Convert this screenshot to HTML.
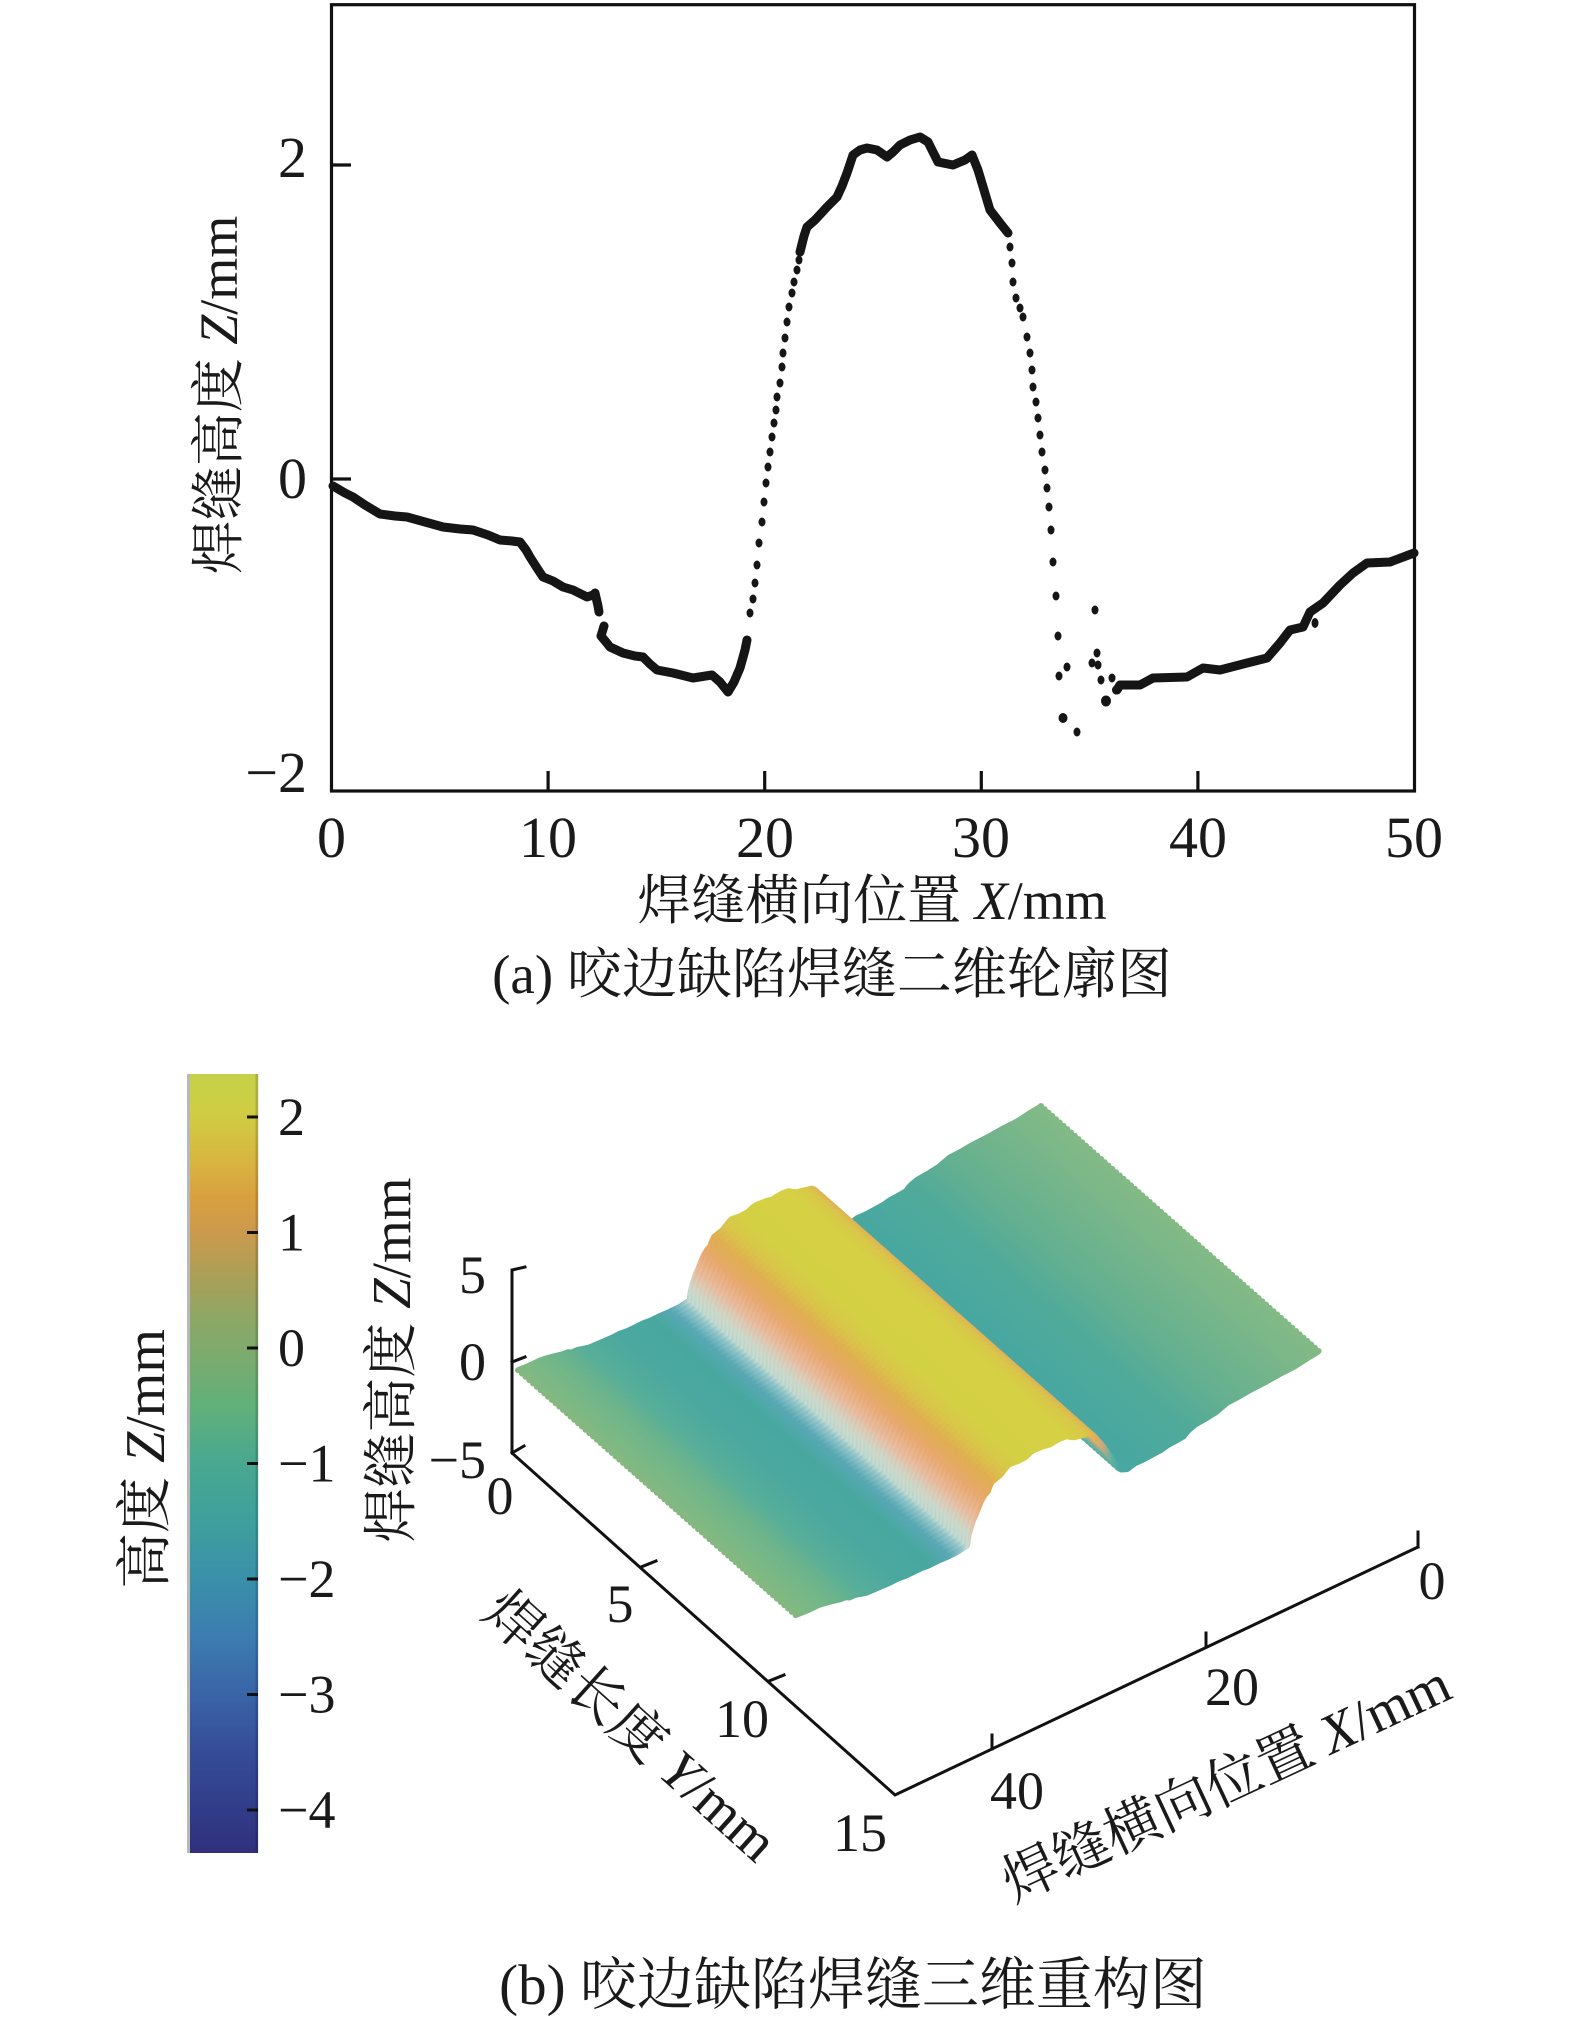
<!DOCTYPE html>
<html><head><meta charset="utf-8"><style>
html,body{margin:0;padding:0;background:#fff;}
svg{display:block;}
text{font-family:"Liberation Serif","Noto Serif CJK SC",serif;fill:#1a1a1a;}
</style></head><body>
<svg xmlns="http://www.w3.org/2000/svg" width="1575" height="2028" viewBox="0 0 1575 2028">
<defs>
<linearGradient id="cb" x1="0" y1="0" x2="0" y2="1">
<stop offset="0" stop-color="#c4d24a"/>
<stop offset="0.055" stop-color="#d0cc42"/>
<stop offset="0.114" stop-color="#d8b440"/>
<stop offset="0.159" stop-color="#d8a040"/>
<stop offset="0.203" stop-color="#cc9a4c"/>
<stop offset="0.263" stop-color="#a8a058"/>
<stop offset="0.322" stop-color="#8aa868"/>
<stop offset="0.352" stop-color="#80aa6c"/>
<stop offset="0.426" stop-color="#62b07a"/>
<stop offset="0.5" stop-color="#48a890"/>
<stop offset="0.574" stop-color="#3ea09c"/>
<stop offset="0.648" stop-color="#3a90aa"/>
<stop offset="0.723" stop-color="#3c7cb0"/>
<stop offset="0.797" stop-color="#3a64a6"/>
<stop offset="0.871" stop-color="#354c98"/>
<stop offset="0.945" stop-color="#313c88"/>
<stop offset="1" stop-color="#30307c"/>
</linearGradient>
<linearGradient id="sg" gradientUnits="userSpaceOnUse" x1="331" y1="0" x2="1414" y2="0">
<stop offset="0" stop-color="#82ba86"/>
<stop offset="0.064" stop-color="#78b68a"/>
<stop offset="0.175" stop-color="#64b090"/>
<stop offset="0.248" stop-color="#50aa9a"/>
<stop offset="0.341" stop-color="#48a8a0"/>
<stop offset="0.378" stop-color="#48a8a2"/>
<stop offset="0.396" stop-color="#60b0a0"/>
<stop offset="0.415" stop-color="#d8a878"/>
<stop offset="0.428" stop-color="#e0b058"/>
<stop offset="0.447" stop-color="#d8c848"/>
<stop offset="0.479" stop-color="#d6d044"/>
<stop offset="0.572" stop-color="#d4d044"/>
<stop offset="0.600" stop-color="#d8c848"/>
<stop offset="0.625" stop-color="#e0ae50"/>
<stop offset="0.645" stop-color="#e8a870"/>
<stop offset="0.660" stop-color="#e8bca0"/>
<stop offset="0.672" stop-color="#c8dcd0"/>
<stop offset="0.684" stop-color="#90c4c8"/>
<stop offset="0.706" stop-color="#58a8b4"/>
<stop offset="0.740" stop-color="#48a8a0"/>
<stop offset="0.802" stop-color="#4aa8a0"/>
<stop offset="0.876" stop-color="#58ae98"/>
<stop offset="0.922" stop-color="#6cb48c"/>
<stop offset="0.978" stop-color="#7cb884"/>
<stop offset="1" stop-color="#84b880"/>
</linearGradient>
<polyline id="prof" transform="matrix(-0.4829 0.23638 0 0.11656 1200.85 971.43)" fill="none" stroke="url(#sg)" stroke-width="6" vector-effect="non-scaling-stroke" stroke-linejoin="round" stroke-linecap="round"
points="331,483 333,488 353,497 380,515 407,517 443,527 473,530 500,540 520,542 530,557 543,577 563,588 587,597 598,612 605,628 610,647 623,653 643,657 657,670 673,673 693,678 712,675 728,692 740,670 747,640 750,613 755,583 759,543 764,502 770,452 777,397 787,333 795,277 800,250 807,227 815,220 827,207 837,197 847,173 853,155 867,148 877,150 887,157 900,145 920,137 928,142 938,162 953,165 972,155 978,170 990,210 1000,223 1008,233 1012,260 1016,298 1023,317 1030,353 1036,401 1042,452 1047,488 1051,530 1056,596 1059,676 1080,690 1100,690 1120,685 1140,685 1153,678 1187,677 1203,668 1220,670 1247,663 1267,658 1280,643 1290,630 1303,627 1310,610 1323,603 1340,585 1353,573 1367,563 1390,562 1414,553"/>
<g id="g5">
<use href="#prof"/>
<use href="#prof" transform="translate(3.75 3.31)"/>
<use href="#prof" transform="translate(7.50 6.62)"/>
<use href="#prof" transform="translate(11.25 9.93)"/>
<use href="#prof" transform="translate(15.00 13.24)"/>
</g>
</defs>

<!-- Chart (a) -->
<rect x="331.5" y="4.7" width="1083" height="786.3" fill="none" stroke="#111" stroke-width="3.2"/>
<g stroke="#111" stroke-width="3.2">
<line x1="548.1" y1="791" x2="548.1" y2="771"/>
<line x1="764.7" y1="791" x2="764.7" y2="771"/>
<line x1="981.3" y1="791" x2="981.3" y2="771"/>
<line x1="1197.9" y1="791" x2="1197.9" y2="771"/>
<line x1="331.5" y1="165" x2="351" y2="165"/>
<line x1="331.5" y1="479" x2="351" y2="479"/>
</g>
<g font-size="58" text-anchor="middle">
<text x="331.5" y="857">0</text>
<text x="548" y="857">10</text>
<text x="765" y="857">20</text>
<text x="981" y="857">30</text>
<text x="1198" y="857">40</text>
<text x="1414" y="857">50</text>
</g>
<g font-size="58" text-anchor="end">
<text x="307" y="177">2</text>
<text x="307" y="498">0</text>
<text x="307" y="792">−2</text>
</g>
<text font-size="54" text-anchor="middle" transform="translate(237,395) rotate(-90)">焊缝高度 <tspan font-style="italic">Z</tspan>/mm</text>
<text font-size="54" x="872" y="919" text-anchor="middle">焊缝横向位置 <tspan font-style="italic">X</tspan>/mm</text>
<text font-size="55" x="832" y="993" text-anchor="middle">(a) 咬边缺陷焊缝二维轮廓图</text>

<g fill="none" stroke="#151515" stroke-width="9" stroke-linejoin="round" stroke-linecap="round">
<polyline points="333,486 345,493 353,497 365,505 380,514 395,516 407,517 425,522 443,527 460,529 473,530 488,535 500,540 512,541 520,542 526,550 530,557 537,568 543,577 553,581 563,587 573,590 587,597 593,595"/>
<polyline points="595,593 598,606 599,612"/>
<polyline points="604,626 601,636 606,642 610,647 623,653 635,656 643,657 650,664 657,670 673,673 693,678 712,675 720,682 728,692 734,682 740,668 745,650 747,640"/>
<polyline points="800,252 804,236 807,227 815,220 827,207 837,197 842,186 847,173 853,155 860,150 867,148 877,150 887,157 893,152 900,145 910,140 920,137 928,142 933,152 938,162 953,165 965,160 972,155 978,170 984,190 990,210 1000,223 1008,233"/>
<polyline points="1117,690 1120,685 1140,685 1153,678 1187,677 1203,668 1220,670 1247,663 1267,658 1280,643 1290,630 1303,627 1310,612 1323,603 1340,585 1353,573 1367,563 1390,562 1414,553"/>
</g>
<g fill="#151515">
<ellipse cx="750" cy="613" rx="3.5" ry="4.5"/><ellipse cx="753" cy="599" rx="3.5" ry="4.5"/><ellipse cx="755" cy="583" rx="3.5" ry="4.5"/><ellipse cx="757" cy="565" rx="3.5" ry="4.5"/><ellipse cx="759" cy="543" rx="3.5" ry="4.5"/><ellipse cx="762" cy="522" rx="3.5" ry="4.5"/><ellipse cx="764" cy="502" rx="3.5" ry="4.5"/><ellipse cx="766" cy="483" rx="3.5" ry="4.5"/><ellipse cx="768" cy="467" rx="3.5" ry="4.5"/><ellipse cx="770" cy="452" rx="3.5" ry="4.5"/><ellipse cx="772" cy="437" rx="3.5" ry="4.5"/><ellipse cx="774" cy="423" rx="3.5" ry="4.5"/><ellipse cx="776" cy="410" rx="3.5" ry="4.5"/><ellipse cx="777" cy="397" rx="3.5" ry="4.5"/><ellipse cx="780" cy="383" rx="3.5" ry="4.5"/><ellipse cx="782" cy="367" rx="3.5" ry="4.5"/><ellipse cx="783" cy="353" rx="3.5" ry="4.5"/><ellipse cx="785" cy="338" rx="3.5" ry="4.5"/><ellipse cx="787" cy="322" rx="3.5" ry="4.5"/><ellipse cx="789" cy="307" rx="3.5" ry="4.5"/><ellipse cx="792" cy="293" rx="3.5" ry="4.5"/><ellipse cx="794" cy="282" rx="3.5" ry="4.5"/><ellipse cx="797" cy="270" rx="3.5" ry="4.5"/><ellipse cx="799" cy="260" rx="3.5" ry="4.5"/>
<ellipse cx="1010" cy="247" rx="3.5" ry="4.5"/><ellipse cx="1012" cy="263" rx="3.5" ry="4.5"/><ellipse cx="1013" cy="282" rx="3.5" ry="4.5"/><ellipse cx="1016" cy="298" rx="3.5" ry="4.5"/><ellipse cx="1020" cy="308" rx="3.5" ry="4.5"/><ellipse cx="1023" cy="317" rx="3.5" ry="4.5"/><ellipse cx="1027" cy="337" rx="3.5" ry="4.5"/><ellipse cx="1030" cy="353" rx="3.5" ry="4.5"/><ellipse cx="1032" cy="370" rx="3.5" ry="4.5"/><ellipse cx="1033" cy="387" rx="3.5" ry="4.5"/><ellipse cx="1036" cy="402" rx="3.5" ry="4.5"/><ellipse cx="1038" cy="418" rx="3.5" ry="4.5"/><ellipse cx="1040" cy="435" rx="3.5" ry="4.5"/><ellipse cx="1042" cy="452" rx="3.5" ry="4.5"/><ellipse cx="1045" cy="470" rx="3.5" ry="4.5"/><ellipse cx="1047" cy="488" rx="3.5" ry="4.5"/><ellipse cx="1049" cy="507" rx="3.5" ry="4.5"/><ellipse cx="1051" cy="530" rx="3.5" ry="4.5"/><ellipse cx="1053" cy="562" rx="3.5" ry="4.5"/><ellipse cx="1056" cy="596" rx="3.5" ry="4.5"/><ellipse cx="1058" cy="636" rx="3.5" ry="4.5"/><ellipse cx="1059" cy="676" rx="3.5" ry="4.5"/>
<ellipse cx="1067" cy="667" rx="3.5" ry="4.5"/><ellipse cx="1063" cy="718" rx="4.5" ry="5"/><ellipse cx="1077" cy="732" rx="3.5" ry="4.5"/><ellipse cx="1095" cy="610" rx="3.5" ry="4.5"/><ellipse cx="1097" cy="653" rx="3.5" ry="4.5"/><ellipse cx="1092" cy="663" rx="3.5" ry="4.5"/><ellipse cx="1098" cy="665" rx="3.5" ry="4.5"/><ellipse cx="1101" cy="680" rx="3.5" ry="4.5"/><ellipse cx="1106" cy="701" rx="5" ry="5.5"/><ellipse cx="1112" cy="678" rx="3.5" ry="4.5"/><ellipse cx="1116" cy="690" rx="4" ry="4.5"/><ellipse cx="1315" cy="623" rx="3.5" ry="5"/>
</g>

<!-- Chart (b): colorbar -->
<rect x="187" y="1074" width="71" height="779" fill="url(#cb)"/>
<line x1="188.5" y1="1074" x2="188.5" y2="1853" stroke="#b8b8b8" stroke-width="3"/>
<line x1="257" y1="1074" x2="257" y2="1853" stroke="rgba(0,0,0,0.15)" stroke-width="3"/>
<g stroke="#111" stroke-width="3">
<line x1="247" y1="1117" x2="258" y2="1117"/>
<line x1="247" y1="1232.5" x2="258" y2="1232.5"/>
<line x1="247" y1="1348" x2="258" y2="1348"/>
<line x1="247" y1="1463.5" x2="258" y2="1463.5"/>
<line x1="247" y1="1579" x2="258" y2="1579"/>
<line x1="247" y1="1694.5" x2="258" y2="1694.5"/>
<line x1="247" y1="1810" x2="258" y2="1810"/>
</g>
<g font-size="54">
<text x="278" y="1135">2</text>
<text x="278" y="1250.5">1</text>
<text x="278" y="1366">0</text>
<text x="278" y="1481.5">−1</text>
<text x="278" y="1597">−2</text>
<text x="278" y="1712.5">−3</text>
<text x="278" y="1828">−4</text>
</g>
<text font-size="56" text-anchor="middle" transform="translate(164,1459) rotate(-90)">高度 <tspan font-style="italic">Z</tspan>/mm</text>

<!-- surface -->
<g>
<use href="#g5"/>
<use href="#g5" transform="translate(18.76 16.56)"/>
<use href="#g5" transform="translate(37.51 33.11)"/>
<use href="#g5" transform="translate(56.27 49.67)"/>
<use href="#g5" transform="translate(75.02 66.22)"/>
<use href="#g5" transform="translate(93.78 82.78)"/>
<use href="#g5" transform="translate(112.53 99.33)"/>
<use href="#g5" transform="translate(131.29 115.89)"/>
<use href="#g5" transform="translate(150.04 132.44)"/>
<use href="#g5" transform="translate(168.80 149.00)"/>
<use href="#g5" transform="translate(187.55 165.55)"/>
<use href="#g5" transform="translate(206.31 182.11)"/>
<use href="#g5" transform="translate(225.06 198.66)"/>
<use href="#g5" transform="translate(243.82 215.22)"/>
<use href="#g5" transform="translate(262.57 231.77)"/>
</g>

<!-- 3D axes -->
<g stroke="#111" stroke-width="3" fill="none" stroke-linecap="square">
<polyline points="525,1267 512,1270 512,1453 895,1795 1418,1547"/>
<line x1="512" y1="1362" x2="525" y2="1357"/>
<line x1="512" y1="1453" x2="524" y2="1446"/>
<line x1="641" y1="1567" x2="656" y2="1561"/>
<line x1="769" y1="1681" x2="784" y2="1675"/>
<line x1="992" y1="1749" x2="992" y2="1735"/>
<line x1="1206" y1="1647" x2="1206" y2="1633"/>
<line x1="1418" y1="1547" x2="1418" y2="1532"/>
</g>
<g font-size="54">
<text x="486" y="1293" text-anchor="end">5</text>
<text x="486" y="1380" text-anchor="end">0</text>
<text x="486" y="1478" text-anchor="end">−5</text>
<text x="500" y="1514" text-anchor="middle">0</text>
<text x="620" y="1622" text-anchor="middle">5</text>
<text x="742" y="1737" text-anchor="middle">10</text>
<text x="860" y="1851" text-anchor="middle">15</text>
<text x="1432" y="1599" text-anchor="middle">0</text>
<text x="1232" y="1705" text-anchor="middle">20</text>
<text x="1017" y="1809" text-anchor="middle">40</text>
</g>
<text font-size="55" text-anchor="middle" transform="translate(410,1360) rotate(-90)">焊缝高度 <tspan font-style="italic">Z</tspan>/mm</text>
<text font-size="56" text-anchor="middle" transform="translate(618,1740) rotate(42)">焊缝长度 <tspan font-style="italic">Y</tspan>/mm</text>
<text font-size="56" text-anchor="middle" transform="translate(1234,1800) rotate(-25)">焊缝横向位置 <tspan font-style="italic">X</tspan>/mm</text>
<text font-size="57" x="853" y="2004" text-anchor="middle">(b) 咬边缺陷焊缝三维重构图</text>
</svg>
</body></html>
